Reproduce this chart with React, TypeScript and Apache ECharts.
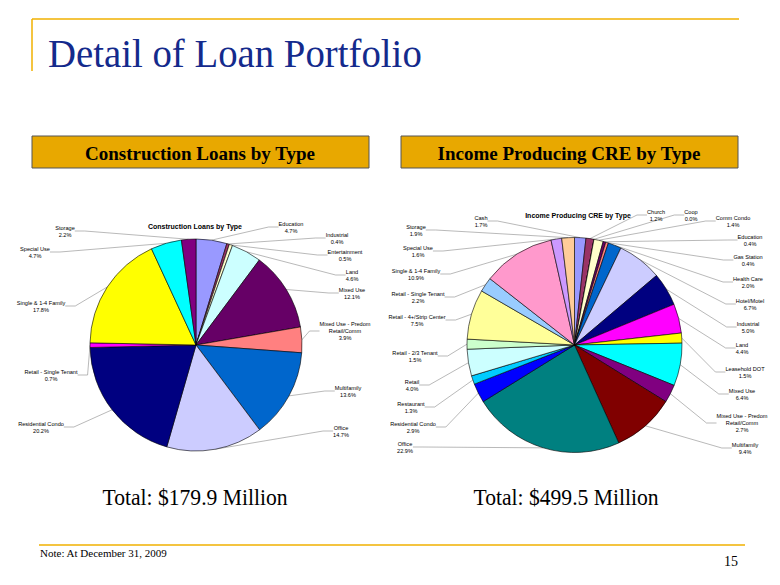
import React, { useEffect, useRef } from "react";
import * as echarts from "echarts";

// ---- Data ----
const consCategories = [
  "Education",
  "Industrial",
  "Entertainment",
  "Land",
  "Mixed Use",
  "Mixed Use - Predom Retail/Comm",
  "Multifamily",
  "Office",
  "Residential Condo",
  "Retail - Single Tenant",
  "Single & 1-4 Family",
  "Special Use",
  "Storage",
];
const consValues = [4.7, 0.4, 0.5, 4.6, 12.1, 3.9, 13.6, 14.7, 20.2, 0.7, 17.8, 4.7, 2.2];

const creCategories = [
  "Cash",
  "Church",
  "Coop",
  "Comm Condo",
  "Education",
  "Gas Station",
  "Health Care",
  "Hotel/Motel",
  "Industrial",
  "Land",
  "Leasehold DOT",
  "Mixed Use",
  "Mixed Use - Predom Retail/Comm",
  "Multifamily",
  "Office",
  "Residential Condo",
  "Restaurant",
  "Retail",
  "Retail - 2/3 Tenant",
  "Retail - 4+/Strip Center",
  "Retail - Single Tenant",
  "Single & 1-4 Family",
  "Special Use",
  "Storage",
];
const creValues = [
  1.7, 1.2, 0.0, 1.4, 0.4, 0.4, 2.0, 6.7, 5.0, 4.4, 1.5, 6.4, 2.7, 9.4, 22.9, 2.9, 1.3, 4.0, 1.5, 7.5,
  2.2, 10.9, 1.6, 1.9,
];

const totals = ["Total: $179.9 Million", "Total: $499.5 Million"];

// ---- Styles / layout ----
const consColors = [
  "#9999FF", "#993366", "#FFFFCC", "#CCFFFF", "#660066", "#FF8080", "#0066CC",
  "#CCCCFF", "#000080", "#FF00FF", "#FFFF00", "#00FFFF", "#800080",
];
const creColors = [
  "#9999FF", "#993366", "#CCFFFF", "#FFFFCC", "#660066", "#FF8080", "#0066CC",
  "#CCCCFF", "#000080", "#FF00FF", "#FFFF00", "#00FFFF", "#800080", "#800000",
  "#008080", "#0000FF", "#00CCFF", "#CCFFFF", "#CCFFCC", "#FFFF99", "#99CCFF",
  "#FF99CC", "#CC99FF", "#FFCC99",
];
const consLabelPos = [
  [291, 227], [337, 238], [345, 255], [352, 275], [352, 293], [345, 331], [348, 391],
  [341, 431], [41, 427], [51, 375], [41, 306], [35, 252], [65, 231],
];
const creLabelPos = [
  [481, 221], [656, 215], [691, 215], [733, 221], [750, 240], [748, 260], [748, 282],
  [750, 304], [748, 327], [742, 348], [745, 372], [742, 394], [742, 423], [745, 448],
  [405, 447], [413, 427], [411, 407], [412, 385], [415, 356], [417, 320], [418, 297],
  [416, 274], [418, 251], [416, 230],
];

const ORANGE = "#F0B000";
const BOX = "#E8A800";
const TITLE_BLUE = "#142A8C";

function fmtLabel(name: string, value: number) {
  const n = name.replace("Predom ", "Predom\n");
  return `${n}\n${value.toFixed(1)}%`;
}

function pieSeries(
  names: string[],
  values: number[],
  colors: string[],
  pos: number[][],
  center: number[],
  radius: number
) {
  return {
    type: "pie",
    center,
    radius,
    startAngle: 90,
    clockwise: true,
    avoidLabelOverlap: false,
    data: names.map((n, i) => ({
      name: n,
      value: values[i],
      itemStyle: { color: colors[i] },
    })),
    itemStyle: { borderColor: "#000", borderWidth: 0.6 },
    label: {
      show: true,
      position: "outside",
      formatter: (p: any) => fmtLabel(p.name, p.value),
      fontFamily: "Liberation Sans, Arial, sans-serif",
      fontSize: 5.6,
      lineHeight: 7,
      color: "#000",
      align: "center",
    },
    labelLine: {
      show: true,
      length: 10,
      length2: 10,
      lineStyle: { color: "#8a8a8a", width: 0.6 },
    },
    labelLayout: (p: any) => ({
      x: pos[p.dataIndex][0],
      y: pos[p.dataIndex][1],
      align: "center",
      verticalAlign: "middle",
    }),
    emphasis: { disabled: true },
    silent: true,
  };
}

export default function App() {
  const ref = useRef<HTMLDivElement>(null);
  useEffect(() => {
    if (!ref.current) return;
    const chart = echarts.init(ref.current, undefined, { renderer: "svg" });
    const serif = "Liberation Serif, Times New Roman, serif";
    const sans = "Liberation Sans, Arial, sans-serif";
    chart.setOption({
      animation: false,
      backgroundColor: "#fff",
      series: [
        pieSeries(consCategories, consValues, consColors, consLabelPos, [196, 345], 106),
        pieSeries(creCategories, creValues, creColors, creLabelPos, [574.5, 345], 107.5),
      ],
      graphic: [
        { type: "line", shape: { x1: 32, y1: 19, x2: 739, y2: 19 }, style: { stroke: ORANGE, lineWidth: 1.5 } },
        { type: "line", shape: { x1: 32, y1: 19, x2: 32, y2: 71 }, style: { stroke: ORANGE, lineWidth: 1.5 } },
        {
          type: "text",
          x: 48,
          y: 74,
          scaleX: 0.97,
          style: {
            text: "Detail of Loan Portfolio",
            font: `40px ${serif}`,
            fill: TITLE_BLUE,
            textVerticalAlign: "bottom",
          },
        },
        { type: "rect", shape: { x: 32, y: 136, width: 337, height: 32 }, style: { fill: BOX, stroke: "#555", lineWidth: 1 } },
        { type: "rect", shape: { x: 401, y: 136, width: 337, height: 32 }, style: { fill: BOX, stroke: "#555", lineWidth: 1 } },
        {
          type: "text",
          x: 200,
          y: 153,
          style: { text: "Construction Loans by Type", font: `bold 19px ${serif}`, fill: "#000", textAlign: "center", textVerticalAlign: "middle" },
        },
        {
          type: "text",
          x: 569,
          y: 153,
          style: { text: "Income Producing CRE by Type", font: `bold 19px ${serif}`, fill: "#000", textAlign: "center", textVerticalAlign: "middle" },
        },
        {
          type: "text",
          x: 195,
          y: 226,
          style: { text: "Construction Loans by Type", font: `bold 7px ${sans}`, fill: "#000", textAlign: "center", textVerticalAlign: "middle" },
        },
        {
          type: "text",
          x: 578,
          y: 215,
          style: { text: "Income Producing CRE by Type", font: `bold 7px ${sans}`, fill: "#000", textAlign: "center", textVerticalAlign: "middle" },
        },
        {
          type: "text",
          x: 195,
          y: 497,
          scaleX: 0.9,
          style: { text: totals[0], font: `24px ${serif}`, fill: "#000", textAlign: "center", textVerticalAlign: "middle" },
        },
        {
          type: "text",
          x: 566,
          y: 497,
          scaleX: 0.9,
          style: { text: totals[1], font: `24px ${serif}`, fill: "#000", textAlign: "center", textVerticalAlign: "middle" },
        },
        { type: "line", shape: { x1: 39, y1: 545, x2: 745, y2: 545 }, style: { stroke: ORANGE, lineWidth: 1.5 } },
        {
          type: "text",
          x: 40,
          y: 553,
          style: { text: "Note: At December 31, 2009", font: `11px ${serif}`, fill: "#000", textVerticalAlign: "middle" },
        },
        {
          type: "text",
          x: 731,
          y: 561,
          style: { text: "15", font: `14px ${serif}`, fill: "#000", textAlign: "center", textVerticalAlign: "middle" },
        },
      ],
    });
    return () => chart.dispose();
  }, []);
  return (
    <div
      ref={ref}
      style={{ position: "fixed", left: 0, top: 0, width: 780, height: 585, background: "#fff" }}
    />
  );
}
